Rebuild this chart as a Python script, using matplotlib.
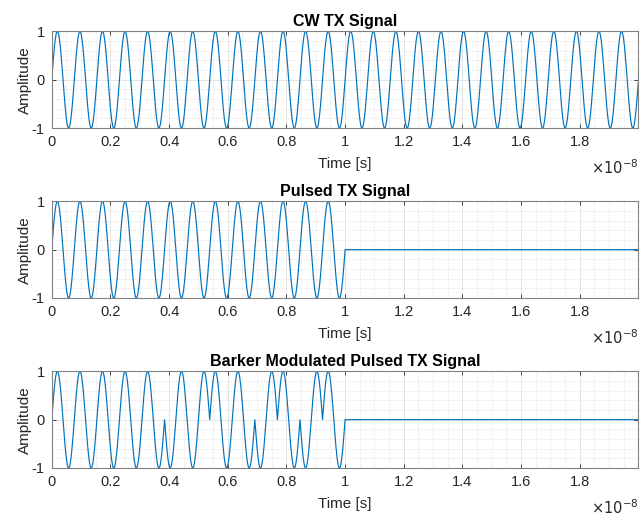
import numpy as np
import matplotlib
matplotlib.use('Agg')
import matplotlib.pyplot as plt
from matplotlib.ticker import MultipleLocator, FuncFormatter

# --- signal parameters ---
fc = 1.3e9                  # carrier: 13 cycles in 10 ns
fs = 100 * fc               # sample rate
t_end = 2e-8                # observation window
pulse_width = 1e-8          # pulse length
barker13 = [1, 1, 1, 1, 1, -1, -1, 1, 1, -1, 1, -1, 1]
titles = ['CW TX Signal', 'Pulsed TX Signal', 'Barker Modulated Pulsed TX Signal']
xtick_vals = [0, 0.2, 0.4, 0.6, 0.8, 1, 1.2, 1.4, 1.6, 1.8]
ytick_vals = [-1, 0, 1]

t = np.arange(0, t_end, 1 / fs)
carrier = np.sin(2 * np.pi * fc * t)
gate = (t <= pulse_width).astype(float)
chip_len = pulse_width / len(barker13)
chip_idx = np.minimum((t / chip_len).astype(int), len(barker13) - 1)
code = np.array(barker13)[chip_idx]

signals = [carrier, carrier * gate, carrier * gate * code]

plt.rcParams['font.family'] = ['Liberation Sans', 'DejaVu Sans']
plt.rcParams['axes.unicode_minus'] = False
blue = '#0072BD'
axcol = '#262626'

fig = plt.figure(figsize=(6.41, 5.17), dpi=100)
bottoms = [0.7524, 0.4236, 0.0948]
for sig, title, b in zip(signals, titles, bottoms):
    ax = fig.add_axes([0.0807, b, 0.915, 0.187])
    ax.plot(t, sig, color=blue, lw=0.85)
    ax.set_xlim(0, t[-1])
    ax.set_ylim(-1, 1)
    ax.set_xticks([v * 1e-8 for v in xtick_vals])
    ax.xaxis.set_major_formatter(FuncFormatter(lambda v, p: '%g' % round(v / 1e-8, 3)))
    ax.set_yticks(ytick_vals)
    ax.yaxis.set_major_formatter(FuncFormatter(lambda v, p: '%g' % v))
    ax.xaxis.set_minor_locator(MultipleLocator(0.05e-8))
    ax.yaxis.set_minor_locator(MultipleLocator(0.2))
    ax.grid(which='major', color='#e0e0e0', lw=0.6, ls='-')
    ax.grid(which='minor', color='#d4d4d4', lw=0.5, ls=':')
    ax.set_axisbelow(True)
    ax.tick_params(which='major', direction='in', top=True, right=True,
                   length=3, width=0.6, colors=axcol, labelsize=10.5, pad=5)
    ax.tick_params(which='minor', length=0)
    for s in ax.spines.values():
        s.set_color('#808080')
        s.set_linewidth(0.8)
    ax.set_title(title, fontsize=11.5, fontweight='bold', pad=3.5, color='black')
    ax.set_ylabel('Amplitude', fontsize=11, labelpad=0, color=axcol)
    ax.set_xlabel('Time [s]', fontsize=11, labelpad=6, color=axcol)
    ax.text(1.0, -0.31, r'$\times10^{-8}$', transform=ax.transAxes,
            ha='right', va='top', fontsize=10.5, color=axcol)

fig.savefig('out.png', dpi=100)
